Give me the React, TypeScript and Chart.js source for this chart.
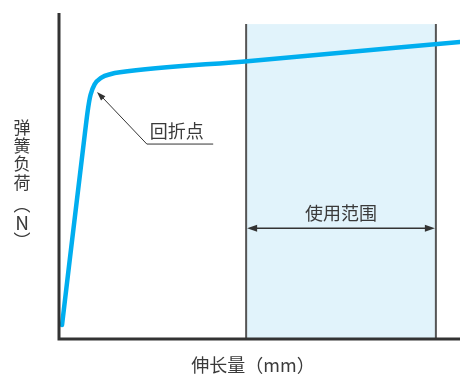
import React, { useEffect, useRef } from "react";
import { Chart, registerables } from "chart.js";

Chart.register(...registerables);

// Spring load vs elongation (arbitrary units 0-100)
const elongation = [1.0, 6.7, 7.5, 8.1, 9.1, 10.8, 13.2, 15.4, 47.8, 100];
const load = [4.3, 63.2, 70.9, 74.9, 78.1, 80.2, 81.3, 81.8, 85.3, 91.1];

// Usage range (elongation) and shade top (load)
const usageRange = [46.8, 94.0];
const usageTop = 96.6;

const xTitle = "伸长量（mm）";
const yTitleChars = ["弹", "簧", "负", "荷", "︵", "N", "︶"];
const bendLabel = "回折点";
const rangeLabel = "使用范围";

const FONT = '"Noto Sans CJK SC", "Noto Sans", sans-serif';
const TEXT = "#3a3a3a";

function arrowHead(ctx: CanvasRenderingContext2D, x: number, y: number, fx: number, fy: number, len: number, half: number) {
  const ang = Math.atan2(y - fy, x - fx);
  ctx.beginPath();
  ctx.moveTo(x, y);
  ctx.lineTo(x - len * Math.cos(ang) + half * Math.sin(ang), y - len * Math.sin(ang) - half * Math.cos(ang));
  ctx.lineTo(x - len * Math.cos(ang) - half * Math.sin(ang), y - len * Math.sin(ang) + half * Math.cos(ang));
  ctx.closePath();
  ctx.fill();
}

const decor = {
  id: "decor",
  beforeDatasetsDraw(chart: any) {
    const { ctx, scales } = chart;
    const xs = scales.x, ys = scales.y;
    const x1 = xs.getPixelForValue(usageRange[0]);
    const x2 = xs.getPixelForValue(usageRange[1]);
    const yt = ys.getPixelForValue(usageTop);
    const yb = ys.getPixelForValue(0);
    ctx.save();
    ctx.fillStyle = "#e1f3fb";
    ctx.fillRect(x1, yt, x2 - x1, yb - yt);
    ctx.strokeStyle = "#555";
    ctx.lineWidth = 2;
    ctx.beginPath();
    ctx.moveTo(x1, yt); ctx.lineTo(x1, yb);
    ctx.moveTo(x2, yt); ctx.lineTo(x2, yb);
    ctx.stroke();
    ctx.restore();
  },
  afterDatasetsDraw(chart: any) {
    const { ctx, scales } = chart;
    const xs = scales.x, ys = scales.y;
    const x0 = xs.getPixelForValue(0);
    const xr = xs.getPixelForValue(100);
    const y0 = ys.getPixelForValue(0);
    const ytop = ys.getPixelForValue(100);
    ctx.save();
    // axes
    ctx.strokeStyle = "#333";
    ctx.lineWidth = 3;
    ctx.beginPath();
    ctx.moveTo(x0 + 1, ytop);
    ctx.lineTo(x0 + 1, y0);
    ctx.lineTo(xr, y0);
    ctx.stroke();

    // bend point annotation
    const tipX = xs.getPixelForValue(9.7), tipY = ys.getPixelForValue(75.8);
    const elX = xs.getPixelForValue(22.1), elY = ys.getPixelForValue(59.8);
    const endX = xs.getPixelForValue(38.6);
    ctx.strokeStyle = "#333";
    ctx.fillStyle = "#333";
    ctx.lineWidth = 1;
    ctx.beginPath();
    ctx.moveTo(endX, elY);
    ctx.lineTo(elX, elY);
    ctx.lineTo(tipX + 4, tipY + 4);
    ctx.stroke();
    arrowHead(ctx, tipX, tipY, elX, elY, 9, 3);
    ctx.fillStyle = TEXT;
    ctx.font = `18px ${FONT}`;
    ctx.textAlign = "left";
    ctx.textBaseline = "middle";
    ctx.fillText(bendLabel, elX + 3, elY - 13);

    // usage range arrow
    const x1 = xs.getPixelForValue(usageRange[0]);
    const x2 = xs.getPixelForValue(usageRange[1]);
    const ay = ys.getPixelForValue(34.0);
    ctx.strokeStyle = "#333";
    ctx.fillStyle = "#333";
    ctx.lineWidth = 1.5;
    ctx.beginPath();
    ctx.moveTo(x1 + 6, ay);
    ctx.lineTo(x2 - 6, ay);
    ctx.stroke();
    arrowHead(ctx, x1 + 1, ay, x2, ay, 10, 3.5);
    arrowHead(ctx, x2 - 1, ay, x1, ay, 10, 3.5);
    ctx.fillStyle = TEXT;
    ctx.font = `18px ${FONT}`;
    ctx.textAlign = "center";
    ctx.textBaseline = "middle";
    ctx.fillText(rangeLabel, (x1 + x2) / 2, ay - 15);

    // axis titles
    ctx.fillText(xTitle, 253, 365);
    const yPos = [128, 146, 164, 183, 205, 223, 241];
    yTitleChars.forEach((c, i) => {
      ctx.font = c === "N" ? `19px ${FONT}` : `17px ${FONT}`;
      ctx.fillText(c, 22, yPos[i]);
    });
    ctx.restore();
  },
};

export default function App() {
  const ref = useRef<HTMLCanvasElement | null>(null);
  useEffect(() => {
    if (!ref.current) return;
    const chart = new Chart(ref.current, {
      type: "line",
      data: {
        datasets: [
          {
            data: elongation.map((x, i) => ({ x, y: load[i] })),
            borderColor: "#00aeef",
            borderWidth: 4.5,
            pointRadius: 0,
            cubicInterpolationMode: "monotone",
            borderCapStyle: "round",
            borderJoinStyle: "round",
            fill: false,
          },
        ],
      },
      options: {
        responsive: false,
        animation: false,
        layout: { padding: { left: 58, right: 0, top: 13, bottom: 35 } },
        plugins: { legend: { display: false }, tooltip: { enabled: false } },
        scales: {
          x: { type: "linear", min: 0, max: 100, display: false },
          y: { type: "linear", min: 0, max: 100, display: false },
        },
      },
      plugins: [decor],
    });
    return () => chart.destroy();
  }, []);
  return (
    <div style={{ position: "fixed", left: 0, top: 0, width: 460, height: 374, background: "#fff" }}>
      <canvas ref={ref} width={460} height={374} />
    </div>
  );
}
